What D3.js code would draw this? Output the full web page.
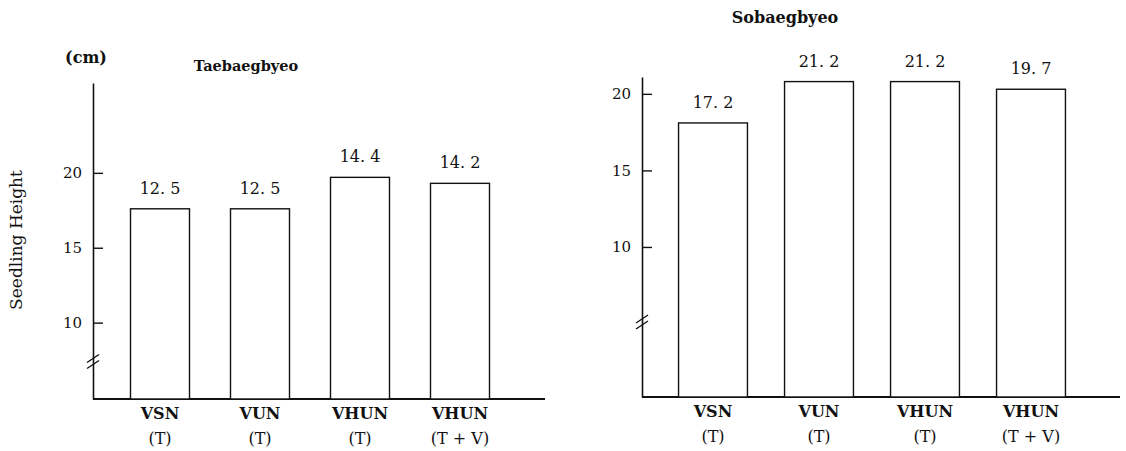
<!DOCTYPE html>
<html>
<head>
<meta charset="utf-8">
<script src="https://cdn.jsdelivr.net/npm/d3@7"></script>
<style>
  body { margin: 0; background: #fff; }
  text { font-family: "DejaVu Serif", "Liberation Serif", serif; fill: #111; }
</style>
</head>
<body>
<div id="chart"></div>
<script>
// treatments on the x axis (top line / bracket line)
const categories = ["VSN", "VUN", "VHUN", "VHUN"];
const subLabels = ["(T)", "(T)", "(T)", "(T + V)"];

// Taebaegbyeo: drawn bar heights (cm) and the numbers printed above the bars
const taebaegHeights = [17.6, 17.6, 19.7, 19.3];
const taebaegLabels = ["12. 5", "12. 5", "14. 4", "14. 2"];

// Sobaegbyeo
const sobaegHeights = [18.1, 20.8, 20.8, 20.3];
const sobaegLabels = ["17. 2", "21. 2", "21. 2", "19. 7"];

const yTicks = [10, 15, 20];

const width = 1126, height = 451;

const svg = d3.select("#chart")
  .append("svg")
  .attr("width", width)
  .attr("height", height);

function panel(opts) {
  const g = svg.append("g");
  const idx = categories.map((d, i) => i);

  const x = d3.scaleBand()
    .domain(idx)
    .range(opts.xRange)
    .paddingInner(opts.padInner)
    .paddingOuter(opts.padInner / 2);

  const y = d3.scaleLinear()
    .domain(opts.yDomain)
    .range(opts.yRange);

  // y axis with inward ticks
  const ax = g.append("g")
    .attr("transform", `translate(${opts.axisX},0)`)
    .call(d3.axisLeft(y).tickValues(yTicks).tickSizeInner(-10).tickSizeOuter(0).tickPadding(11));
  ax.select(".domain").attr("stroke", "#111").attr("stroke-width", 1.6);
  ax.selectAll(".tick line").attr("stroke", "#111").attr("stroke-width", 1.4);
  ax.selectAll(".tick text")
    .style("font-size", "15px")
    .attr("fill", "#111");

  // axis break marks
  const by = y(opts.breakAt);
  [-3, 3].forEach(off => {
    g.append("line")
      .attr("x1", opts.axisX - 6).attr("y1", by + off + 4)
      .attr("x2", opts.axisX + 6).attr("y2", by + off - 4)
      .attr("stroke", "#111").attr("stroke-width", 1.3);
  });

  // baseline
  g.append("line")
    .attr("x1", opts.axisX).attr("x2", opts.baseEnd)
    .attr("y1", y(opts.yDomain[0])).attr("y2", y(opts.yDomain[0]))
    .attr("stroke", "#111").attr("stroke-width", 1.8);

  // bars
  g.selectAll("rect")
    .data(opts.heights)
    .enter()
    .append("rect")
    .attr("x", (d, i) => x(i))
    .attr("y", d => y(d))
    .attr("width", x.bandwidth())
    .attr("height", d => y(opts.yDomain[0]) - y(d))
    .attr("fill", "#fff")
    .attr("stroke", "#111")
    .attr("stroke-width", 1.4);

  // value labels
  g.selectAll(".val")
    .data(opts.heights)
    .enter()
    .append("text")
    .attr("class", "val")
    .attr("x", (d, i) => x(i) + x.bandwidth() / 2)
    .attr("y", d => y(d) - 15)
    .attr("text-anchor", "middle")
    .style("font-size", "16px")
    .text((d, i) => opts.labels[i]);

  // category labels
  const cat = g.selectAll(".cat")
    .data(idx)
    .enter()
    .append("text")
    .attr("class", "cat")
    .attr("text-anchor", "middle")
    .style("font-size", "16px")
    .style("font-weight", "bold");
  cat.append("tspan")
    .attr("x", i => x(i) + x.bandwidth() / 2)
    .attr("y", y(opts.yDomain[0]) + 20)
    .text(i => categories[i]);
  cat.append("tspan")
    .attr("x", i => x(i) + x.bandwidth() / 2)
    .attr("y", y(opts.yDomain[0]) + 45)
    .style("font-weight", "normal")
    .text(i => subLabels[i]);

  // title
  g.append("text")
    .attr("x", opts.titleX)
    .attr("y", opts.titleY)
    .attr("text-anchor", "middle")
    .style("font-size", opts.titleSize)
    .style("font-weight", "bold")
    .text(opts.title);
}

panel({
  xRange: [110, 510], padInner: 0.41,
  yDomain: [4.9, 26], yRange: [399, 83],
  axisX: 93, baseEnd: 545, breakAt: 7.4,
  heights: taebaegHeights, labels: taebaegLabels,
  title: "Taebaegbyeo", titleX: 246, titleY: 71, titleSize: "14.5px"
});

panel({
  xRange: [660, 1084], padInner: 0.35,
  yDomain: [0.2, 21.1], yRange: [397, 77],
  axisX: 642, baseEnd: 1120, breakAt: 5.1,
  heights: sobaegHeights, labels: sobaegLabels,
  title: "Sobaegbyeo", titleX: 785, titleY: 23, titleSize: "16px"
});

// unit and y-axis title
svg.append("text")
  .attr("x", 86).attr("y", 63)
  .attr("text-anchor", "middle")
  .style("font-size", "16px")
  .style("font-weight", "bold")
  .text("(cm)");

svg.append("text")
  .attr("transform", "translate(22,240) rotate(-90)")
  .attr("text-anchor", "middle")
  .style("font-size", "17px")
  .text("Seedling Height");
</script>
</body>
</html>
